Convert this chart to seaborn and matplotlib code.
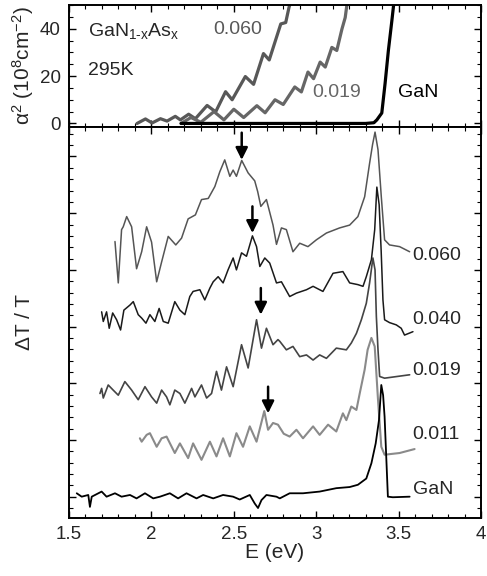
import numpy as np
import pandas as pd
import matplotlib
matplotlib.use("Agg")
import matplotlib.pyplot as plt
from matplotlib.ticker import MultipleLocator, FormatStrFormatter
import seaborn as sns

# ---------------- data: absorption (top panel) ----------------
abs_060_E = [1.913, 1.964, 2.004, 2.055, 2.095, 2.145, 2.176, 2.226, 2.267, 2.338, 2.39, 2.45,
             2.49, 2.57, 2.62, 2.68, 2.715, 2.785, 2.815, 2.835, 2.848]
abs_060_a = [0.0, 1.9, 0.2, 2.0, 1.0, 3.0, 1.5, 3.9, 2.0, 7.6, 4.9, 13.4,
             10.0, 19.8, 16.5, 29.5, 26.8, 42.0, 42.6, 49.0, 52.0]
abs_019_E = [2.18, 2.24, 2.30, 2.38, 2.44, 2.50, 2.56, 2.64, 2.69, 2.75, 2.80, 2.87, 2.91,
             2.95, 2.984, 3.024, 3.055, 3.095, 3.125, 3.156, 3.176, 3.19]
abs_019_a = [0.0, 2.5, 0.5, 5.0, 1.5, 6.0, 2.5, 7.5, 4.5, 10.0, 8.0, 15.4, 13.3,
             21.7, 18.9, 25.9, 23.8, 32.1, 30.8, 39.8, 44.7, 52.0]
abs_gan_E = [2.18, 3.0, 3.3, 3.35, 3.368, 3.398, 3.418, 3.438, 3.459, 3.473]
abs_gan_a = [0.0, 0.0, 0.0, 0.3, 1.5, 4.4, 16.9, 30.8, 43.3, 52.0]

# ---------------- data: dT/T (bottom panel, shifted, a.u.) ----------------
dt_060_E = [1.779, 1.799, 1.819, 1.829, 1.850, 1.880, 1.910, 1.941, 1.971, 2.001, 2.032, 2.062,
            2.102, 2.148, 2.183, 2.223, 2.267, 2.304, 2.345, 2.385, 2.415, 2.445, 2.476, 2.496,
            2.516, 2.548, 2.587, 2.627, 2.645, 2.664, 2.698, 2.738, 2.759, 2.789, 2.819, 2.859,
            2.900, 2.950, 3.001, 3.062, 3.142, 3.203, 3.253, 3.294, 3.324, 3.342, 3.357, 3.375,
            3.395, 3.415, 3.445, 3.506, 3.567]
dt_060_v = [4.50, 3.77, 4.71, 4.76, 4.94, 4.76, 4.02, 4.32, 4.76, 4.49, 3.79, 4.14,
            4.59, 4.44, 4.56, 4.90, 4.97, 5.24, 5.26, 5.47, 5.73, 5.94, 5.65, 5.76,
            5.65, 5.93, 5.71, 5.57, 5.38, 5.12, 5.24, 4.79, 4.45, 4.74, 4.71, 4.32,
            4.47, 4.41, 4.53, 4.65, 4.74, 4.79, 4.94, 5.29, 5.88, 6.21, 6.43, 6.12,
            5.29, 4.53, 4.44, 4.41, 4.32]

dt_040_E = [1.698, 1.708, 1.728, 1.744, 1.765, 1.789, 1.813, 1.833, 1.870, 1.890, 1.920, 1.941,
            1.967, 1.991, 2.021, 2.047, 2.072, 2.102, 2.142, 2.173, 2.203, 2.233, 2.253, 2.294,
            2.324, 2.355, 2.375, 2.405, 2.435, 2.465, 2.496, 2.516, 2.547, 2.577, 2.613, 2.638,
            2.658, 2.688, 2.718, 2.759, 2.789, 2.839, 2.880, 2.941, 2.981, 3.041, 3.102, 3.162,
            3.203, 3.253, 3.284, 3.304, 3.335, 3.355, 3.368, 3.382, 3.394, 3.405, 3.415, 3.445,
            3.486, 3.516, 3.536, 3.587]
dt_040_v = [3.26, 3.09, 3.26, 2.97, 3.24, 3.12, 2.94, 3.29, 3.38, 3.44, 3.21, 3.15,
            3.06, 3.21, 3.09, 3.32, 3.09, 3.06, 3.44, 3.29, 3.21, 3.53, 3.62, 3.65,
            3.47, 3.68, 3.79, 3.88, 3.77, 4.00, 4.21, 4.00, 4.30, 4.24, 4.60, 4.41,
            4.06, 4.21, 4.12, 3.77, 3.79, 3.53, 3.59, 3.65, 3.71, 3.62, 3.94, 3.97,
            3.77, 3.74, 3.71, 3.88, 4.18, 4.71, 5.46, 5.15, 4.35, 3.47, 3.12, 3.07,
            3.03, 2.97, 2.85, 2.91]

dt_019_E = [1.688, 1.698, 1.708, 1.738, 1.768, 1.799, 1.839, 1.880, 1.920, 1.961, 2.001, 2.032,
            2.062, 2.092, 2.112, 2.142, 2.173, 2.203, 2.244, 2.264, 2.304, 2.335, 2.365, 2.395,
            2.425, 2.456, 2.496, 2.547, 2.587, 2.638, 2.668, 2.698, 2.738, 2.768, 2.779, 2.819,
            2.859, 2.900, 2.941, 2.981, 3.021, 3.062, 3.122, 3.183, 3.213, 3.244, 3.274, 3.304,
            3.324, 3.344, 3.357, 3.365, 3.375, 3.385, 3.415, 3.567]
dt_019_v = [1.82, 1.91, 1.74, 1.97, 1.88, 1.79, 2.03, 1.88, 1.71, 1.94, 1.76, 1.65,
            1.88, 1.76, 1.62, 1.88, 1.82, 1.65, 1.91, 1.76, 1.97, 1.74, 1.82, 2.21,
            1.88, 2.29, 1.94, 2.68, 2.27, 3.12, 2.62, 2.97, 2.68, 2.77, 2.74, 2.59,
            2.65, 2.47, 2.50, 2.41, 2.50, 2.44, 2.62, 2.59, 2.71, 2.88, 3.12, 3.41,
            3.77, 4.21, 4.00, 3.18, 2.59, 2.12, 2.09, 2.15]

dt_011_E = [1.930, 1.941, 1.971, 1.991, 2.032, 2.062, 2.092, 2.142, 2.173, 2.223, 2.253, 2.304,
            2.355, 2.395, 2.435, 2.476, 2.516, 2.556, 2.597, 2.638, 2.685, 2.708, 2.738, 2.768,
            2.803, 2.839, 2.880, 2.920, 2.981, 3.021, 3.072, 3.122, 3.162, 3.183, 3.213, 3.244,
            3.264, 3.294, 3.312, 3.335, 3.355, 3.375, 3.395, 3.415, 3.506, 3.597]
dt_011_v = [1.03, 0.97, 1.09, 1.12, 0.88, 1.03, 1.06, 0.77, 0.94, 0.68, 0.94, 0.65,
            0.97, 0.71, 1.03, 0.71, 1.12, 0.88, 1.24, 0.97, 1.51, 1.18, 1.30, 1.27,
            1.11, 1.06, 1.18, 1.03, 1.24, 1.09, 1.27, 1.15, 1.47, 1.35, 1.59, 1.53,
            1.82, 2.24, 2.59, 2.80, 2.65, 1.71, 0.88, 0.74, 0.77, 0.84]

dt_gan_E = [1.547, 1.577, 1.617, 1.627, 1.638, 1.698, 1.728, 1.779, 1.819, 1.870, 1.910, 1.961,
            2.011, 2.052, 2.112, 2.162, 2.213, 2.274, 2.314, 2.375, 2.435, 2.496, 2.536, 2.597,
            2.627, 2.647, 2.668, 2.698, 2.759, 2.779, 2.839, 2.920, 3.021, 3.122, 3.203, 3.253,
            3.304, 3.335, 3.361, 3.381, 3.395, 3.406, 3.415, 3.435, 3.465, 3.567]
dt_gan_v = [0.06, 0.00, 0.03, -0.18, 0.00, 0.09, 0.00, 0.06, 0.00, 0.03, -0.03, 0.06,
            -0.03, 0.00, 0.06, -0.03, 0.06, -0.03, 0.03, -0.03, 0.03, 0.00, -0.05, 0.03,
            -0.12, -0.20, -0.06, 0.03, 0.00, -0.03, 0.06, 0.06, 0.09, 0.15, 0.17, 0.21,
            0.32, 0.59, 0.94, 1.35, 1.97, 1.79, 1.41, 0.00, -0.01, 0.00]

dt_labels = ["0.060", "0.040", "0.019", "0.011", "GaN"]
dt_label_y = [4.25, 3.12, 2.22, 1.09, 0.12]
# arrows: (E, y_start, y_end)
arrow_E = [2.548, 2.613, 2.664, 2.708]
arrow_y0 = [6.42, 5.12, 3.68, 1.94]
arrow_y1 = [5.94, 4.65, 3.21, 1.47]

# ---------------- style ----------------
sns.set_theme(style="ticks")
plt.rcParams["font.family"] = ["Liberation Sans", "DejaVu Sans"]
plt.rcParams["mathtext.fontset"] = "custom"
plt.rcParams["mathtext.rm"] = "Liberation Sans"
plt.rcParams["mathtext.it"] = "Liberation Sans:italic"
plt.rcParams["mathtext.bf"] = "Liberation Sans:bold"

fig = plt.figure(figsize=(4.87, 5.76), dpi=100)
L, W = 69 / 487, 412 / 487
ax_top = fig.add_axes([L, 1 - 127 / 576, W, 122 / 576])
ax_bot = fig.add_axes([L, 1 - 518 / 576, W, 391 / 576])

def style_axes(ax):
    for s in ax.spines.values():
        s.set_linewidth(1.4)
        s.set_color("black")
    ax.tick_params(which="both", direction="in", top=True, right=True, color="black")
    ax.tick_params(which="major", length=5, width=1.0, labelsize=13.5, pad=6)
    ax.tick_params(which="minor", length=3, width=0.8)
    ax.xaxis.set_major_locator(MultipleLocator(0.5))
    ax.xaxis.set_minor_locator(MultipleLocator(0.1))
    ax.set_xlim(1.5, 4.0)

# top panel
style_axes(ax_top)
top_series = [(abs_060_E, abs_060_a, "#585858"), (abs_019_E, abs_019_a, "#666666"),
              (abs_gan_E, abs_gan_a, "#000000")]
for E, a, c in top_series:
    sns.lineplot(x=E, y=a, ax=ax_top, color=c, linewidth=2.3, sort=False, estimator=None)
ax_top.set_ylim(-1.5, 50)
ax_top.yaxis.set_major_locator(MultipleLocator(20))
ax_top.yaxis.set_minor_locator(MultipleLocator(5))
ax_top.tick_params(axis="x", labelbottom=False)
ax_top.set_ylabel("α$^2$ (10$^8$cm$^{-2}$)", fontsize=15, labelpad=3)
ax_top.text(1.615, 39, r"GaN$_{\mathrm{1\text{-}x}}$As$_{\mathrm{x}}$", fontsize=14, va="center")
ax_top.text(1.615, 22.4, "295K", fontsize=14, va="center")
ax_top.text(2.373, 39.7, "0.060", fontsize=14, va="center", color="#585858")
ax_top.text(2.979, 13.0, "0.019", fontsize=14, va="center", color="#666666")
ax_top.text(3.494, 13.2, "GaN", fontsize=14, va="center", color="black")

# bottom panel
style_axes(ax_bot)
bot_series = [(dt_060_E, dt_060_v, "#555555", 1.1), (dt_040_E, dt_040_v, "#1a1a1a", 1.1),
              (dt_019_E, dt_019_v, "#444444", 1.2), (dt_011_E, dt_011_v, "#8a8a8a", 1.5),
              (dt_gan_E, dt_gan_v, "#000000", 1.3)]
for E, v, c, lw in bot_series:
    sns.lineplot(x=E, y=v, ax=ax_bot, color=c, linewidth=lw, sort=False, estimator=None)
ax_bot.set_ylim(-0.376, 6.52)
ax_bot.yaxis.set_major_locator(MultipleLocator(1))
ax_bot.yaxis.set_minor_locator(MultipleLocator(0.2))
ax_bot.tick_params(axis="y", labelleft=False)
ax_bot.xaxis.set_major_formatter(FormatStrFormatter("%g"))
ax_bot.set_xlabel("E (eV)", fontsize=15, labelpad=0)
ax_bot.set_ylabel("ΔT / T", fontsize=15, labelpad=22)
for lab, y in zip(dt_labels, dt_label_y):
    ax_bot.text(3.585, y, lab, fontsize=14, va="center")
for e, y0, y1 in zip(arrow_E, arrow_y0, arrow_y1):
    ax_bot.annotate("", xy=(e, y1), xytext=(e, y0),
                    arrowprops=dict(arrowstyle="-|>,head_length=0.6,head_width=0.3",
                                    color="black", lw=1.8, shrinkA=0, shrinkB=0))

fig.savefig("out.png", dpi=100)
